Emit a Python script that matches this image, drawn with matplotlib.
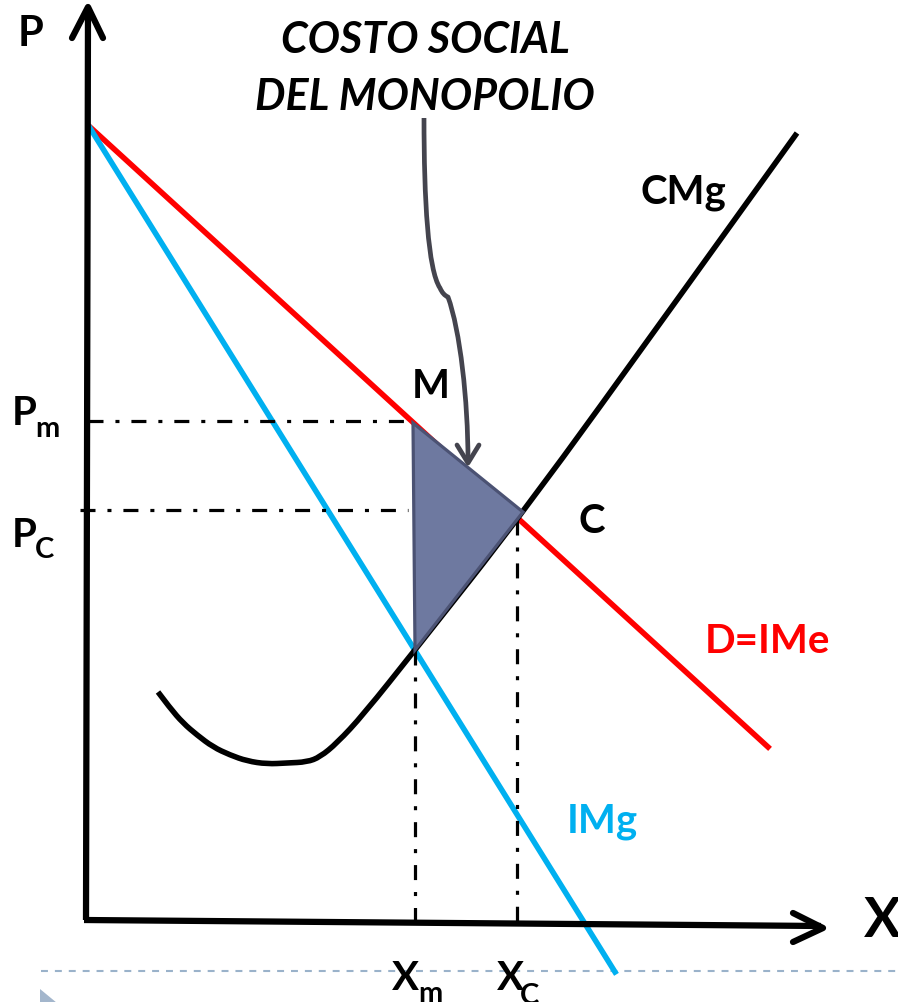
import matplotlib
matplotlib.use("Agg")
import matplotlib.pyplot as plt
from matplotlib.patches import Polygon, PathPatch
from matplotlib.path import Path

plt.rcParams['lines.scale_dashes'] = False
plt.rcParams['font.family'] = ['Lato', 'DejaVu Sans']

# ---------------- data (quantity X, price P) ----------------
demand_q = [4, 682]
demand_p = [793, 173]
img_q = [4, 529]
img_p = [792, -52]
cmg_q = [72, 84, 97, 111, 127, 144, 161, 181, 201, 221, 234, 251, 277, 329, 437, 591, 711]
cmg_p = [228, 212, 197, 185, 173, 165, 159, 156, 157, 158, 163, 177, 205, 270, 407, 620, 787]
Pm, Pc = 499, 410
Xm, Xc = 329, 431
tri_q = [327, 437, 329]
tri_p = [497, 408, 270]
# callout curve: anchor / control points of a Bezier path
callout_q = [338, 338, 342, 354, 357, 362, 374, 382, 382]
callout_p = [802, 720, 650, 632, 625, 623, 590, 520, 459]
head_q = [371, 382, 393]
head_p = [475, 457, 475]

ORX, ORY = 86, 920  # pixel position of origin


def px(x, y):
    return x - ORX, ORY - y


W, H = 898, 1002
fig = plt.figure(figsize=(W / 100, H / 100), dpi=100)
ax = fig.add_axes([0, 0, 1, 1])
ax.set_xlim(-ORX, W - ORX)
ax.set_ylim(ORY - H, ORY)
ax.axis('off')

RED = '#FF0000'
BLUE = '#00B0F0'
DARK = '#44444E'

# axes
ax.plot([0, 2], [0, px(0, 8)[1]], color='black', lw=4.5, solid_capstyle='butt', zorder=5)
ax.plot([-2, 735], [0, -6], color='black', lw=4.5, solid_capstyle='butt', zorder=5)
ax.plot(*zip(px(72, 38), px(88, 7), px(103, 38)), color='black', lw=4.5,
        solid_capstyle='round', solid_joinstyle='round', zorder=5)
ax.plot(*zip(px(793, 913), px(823, 928), px(793, 942)), color='black', lw=4.5,
        solid_capstyle='round', solid_joinstyle='round', zorder=5)

# reference lines
dd = (0, (10.8, 8.6, 2.9, 8.6))
ax.plot([2, tri_q[0]], [Pm, Pm], color='black', lw=2.3, linestyle=dd, zorder=3)
ax.plot([-6, 322], [Pc, Pc], color='black', lw=2.3, linestyle=dd, zorder=3)
ax.plot([Xm, Xm], [tri_p[2], 0], color='black', lw=2.3, linestyle=dd, zorder=3)
ax.plot([Xc, Xc], [400, -8], color='black', lw=2.3, linestyle=dd, zorder=3)

# curves
ax.plot(demand_q, demand_p, color=RED, lw=4, zorder=2)
ax.plot(img_q, img_p, color=BLUE, lw=4, zorder=2)

# smooth CMg: data points used as quadratic Bezier controls
pts = list(zip(cmg_q, cmg_p))
verts = [pts[0]]
codes = [Path.MOVETO]
for i in range(1, len(pts) - 1):
    mid = ((pts[i][0] + pts[i + 1][0]) / 2, (pts[i][1] + pts[i + 1][1]) / 2)
    if i == len(pts) - 2:
        mid = pts[-1]
    verts += [pts[i], mid]
    codes += [Path.CURVE3, Path.CURVE3]
ax.add_patch(PathPatch(Path(verts, codes), facecolor='none', edgecolor='black',
                       lw=4, capstyle='butt', zorder=2))

# triangle
ax.add_patch(Polygon(list(zip(tri_q, tri_p)), closed=True, facecolor='#6E79A0',
                     edgecolor='#4B5273', lw=2.3, zorder=4))

# callout arrow (cubic Bezier segments)
cverts = list(zip(callout_q, callout_p))
ccodes = [Path.MOVETO, Path.CURVE4, Path.CURVE4, Path.CURVE4,
          Path.CURVE3, Path.CURVE3, Path.CURVE4, Path.CURVE4, Path.CURVE4]
ax.add_patch(PathPatch(Path(cverts, ccodes), facecolor='none', edgecolor=DARK,
                       lw=3.4, capstyle='butt', joinstyle='round', zorder=6))
ax.plot(head_q, head_p, color=DARK, lw=3.4, solid_capstyle='round',
        solid_joinstyle='round', zorder=6)

# decorations at bottom
ax.plot([px(41, 0)[0], W - ORX], [px(0, 971)[1]] * 2, color='#9AB2CA', lw=1.5,
        linestyle=(0, (5, 5)), zorder=1)
ax.add_patch(Polygon([px(40, 989), px(40, 1003), px(57, 1003)], closed=True,
                     facecolor='#A3B6CC', edgecolor='none'))


def T(x, y, s, size, color='black', ha='left', style='normal'):
    xx, yy = px(x, y)
    ax.text(xx, yy, s, fontsize=size, color=color, ha=ha, va='baseline',
            fontweight='bold', fontstyle=style, zorder=7)


LS = 29
SS = 21
T(18, 46, 'P', 30)
T(864, 937, 'X', 40)
T(425, 53, 'COSTO SOCIAL', 31, ha='center', style='italic')
T(425, 110, 'DEL MONOPOLIO', 31, ha='center', style='italic')
T(640, 203, 'CMg', LS)
T(412, 398, 'M', LS)
T(578, 533, 'C', LS)
T(705, 653, 'D=IMe', LS, color=RED)
T(567, 832, 'IMg', LS, color=BLUE)
T(12, 425, 'P', LS)
T(35, 437, 'm', SS)
T(12, 547, 'P', LS)
T(35, 558, 'C', SS)
T(392, 990, 'X', LS)
T(418, 1002, 'm', SS)
T(497, 990, 'X', LS)
T(520, 1004, 'C', SS)

fig.savefig('out.png', dpi=100)
